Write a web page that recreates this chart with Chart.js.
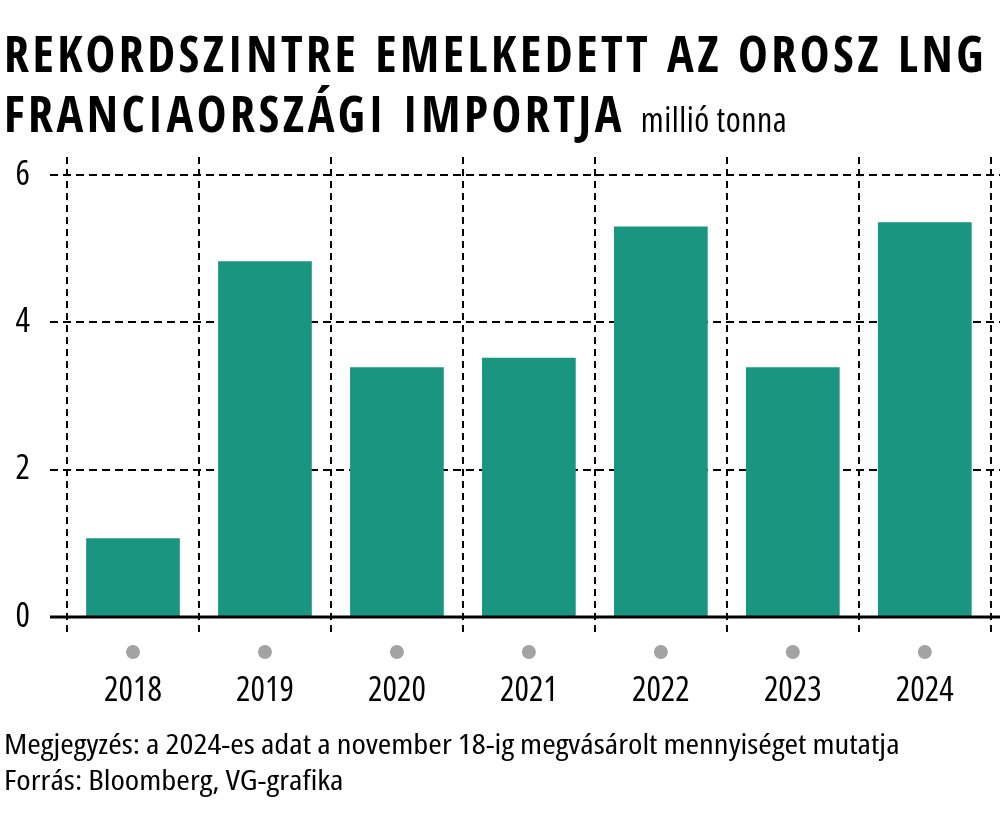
<!DOCTYPE html>
<html>
<head>
<meta charset="utf-8">
<script src="https://cdn.jsdelivr.net/npm/chart.js@4"></script>
<style>
  body { margin: 0; background: #fff; }
  #wrap { position: relative; width: 1000px; height: 818px; overflow: hidden; }
  canvas { position: absolute; left: 0; top: 0; }
  .t { position: absolute; left: 4px; color: #000; white-space: nowrap; }
  .title { font-family: "Open Sans Condensed", "Open Sans", sans-serif; font-weight: bold; font-stretch: condensed; font-size: 50px; line-height: 1; letter-spacing: 3.5px; }
  .unit { font-family: "Open Sans", sans-serif; font-weight: normal; font-stretch: condensed; font-size: 34px; letter-spacing: 0.5px; }
  .note { font-family: "Open Sans", sans-serif; font-stretch: condensed; font-size: 28px; line-height: 1; transform: scaleX(1.17); transform-origin: left top; }
</style>
</head>
<body>
<div id="wrap">
  <canvas id="lngChart" width="1000" height="818"></canvas>
  <div class="t title" style="top:28px">REKORDSZINTRE EMELKEDETT AZ OROSZ LNG</div>
  <div class="t title" style="top:88px">FRANCIAORSZÁGI IMPORTJA <span class="unit">millió tonna</span></div>
  <div class="t note" style="top:729px">Megjegyzés: a 2024-es adat a november 18-ig megvásárolt mennyiséget mutatja</div>
  <div class="t note" style="top:765px">Forrás: Bloomberg, VG-grafika</div>
</div>
<script>
const years = ['2018', '2019', '2020', '2021', '2022', '2023', '2024'];
const imports = [1.07, 4.83, 3.39, 3.52, 5.30, 3.39, 5.36];
const yTicks = [0, 2, 4, 6];

const barColor = '#1a9680';
const tickFont = { family: "'Open Sans'", size: 34, weight: 'condensed' };

// dashed grid behind the bars, solid zero line and grey dots on top
const gridPlugin = {
    id: 'vgGrid',
    beforeDatasetsDraw(chart) {
        const ctx = chart.ctx;
        const x = chart.scales.x;
        const y = chart.scales.y;
        const area = chart.chartArea;
        ctx.save();
        ctx.strokeStyle = '#000';
        ctx.lineWidth = 2;
        ctx.setLineDash([8, 5]);
        yTicks.forEach(v => {
            if (v === 0) return;
            const py = Math.round(y.getPixelForValue(v));
            ctx.beginPath();
            ctx.moveTo(area.left - 17, py);
            ctx.lineTo(chart.width, py);
            ctx.stroke();
        });
        ctx.setLineDash([7, 5]);
        for (let i = 0; i <= years.length; i++) {
            const px = Math.round(x.getPixelForValue(i - 0.5));
            ctx.beginPath();
            ctx.moveTo(px, area.top - 18);
            ctx.lineTo(px, area.bottom + 18);
            ctx.stroke();
        }
        ctx.restore();
    },
    afterDatasetsDraw(chart) {
        const ctx = chart.ctx;
        const x = chart.scales.x;
        const y = chart.scales.y;
        const area = chart.chartArea;
        ctx.save();
        ctx.strokeStyle = '#000';
        ctx.lineWidth = 3;
        const py = y.getPixelForValue(0);
        ctx.beginPath();
        ctx.moveTo(area.left - 17, py);
        ctx.lineTo(chart.width, py);
        ctx.stroke();
        ctx.fillStyle = '#a3a3a3';
        years.forEach((yr, i) => {
            ctx.beginPath();
            ctx.arc(x.getPixelForValue(i), py + 35, 7, 0, Math.PI * 2);
            ctx.fill();
        });
        ctx.restore();
    }
};

const ctx = document.getElementById('lngChart').getContext('2d');
new Chart(ctx, {
    type: 'bar',
    data: {
        labels: years,
        datasets: [{
            label: 'millió tonna',
            data: imports,
            backgroundColor: barColor,
            barPercentage: 0.71,
            categoryPercentage: 1
        }]
    },
    options: {
        responsive: false,
        animation: false,
        layout: { padding: { top: 175, right: 4, left: 0, bottom: 0 } },
        plugins: {
            legend: { display: false },
            tooltip: { enabled: false }
        },
        scales: {
            x: {
                offset: true,
                grid: { display: false },
                border: { display: false },
                ticks: {
                    color: '#000',
                    padding: 46,
                    font: tickFont
                },
                afterFit(scale) { scale.height = 201; }
            },
            y: {
                min: 0,
                max: 6,
                grid: { display: false },
                border: { display: false },
                afterBuildTicks(scale) { scale.ticks = yTicks.map(v => ({ value: v })); },
                ticks: {
                    color: '#000',
                    padding: 29,
                    font: tickFont
                },
                afterFit(scale) { scale.width = 67; }
            }
        }
    },
    plugins: [gridPlugin]
});
</script>
</body>
</html>
